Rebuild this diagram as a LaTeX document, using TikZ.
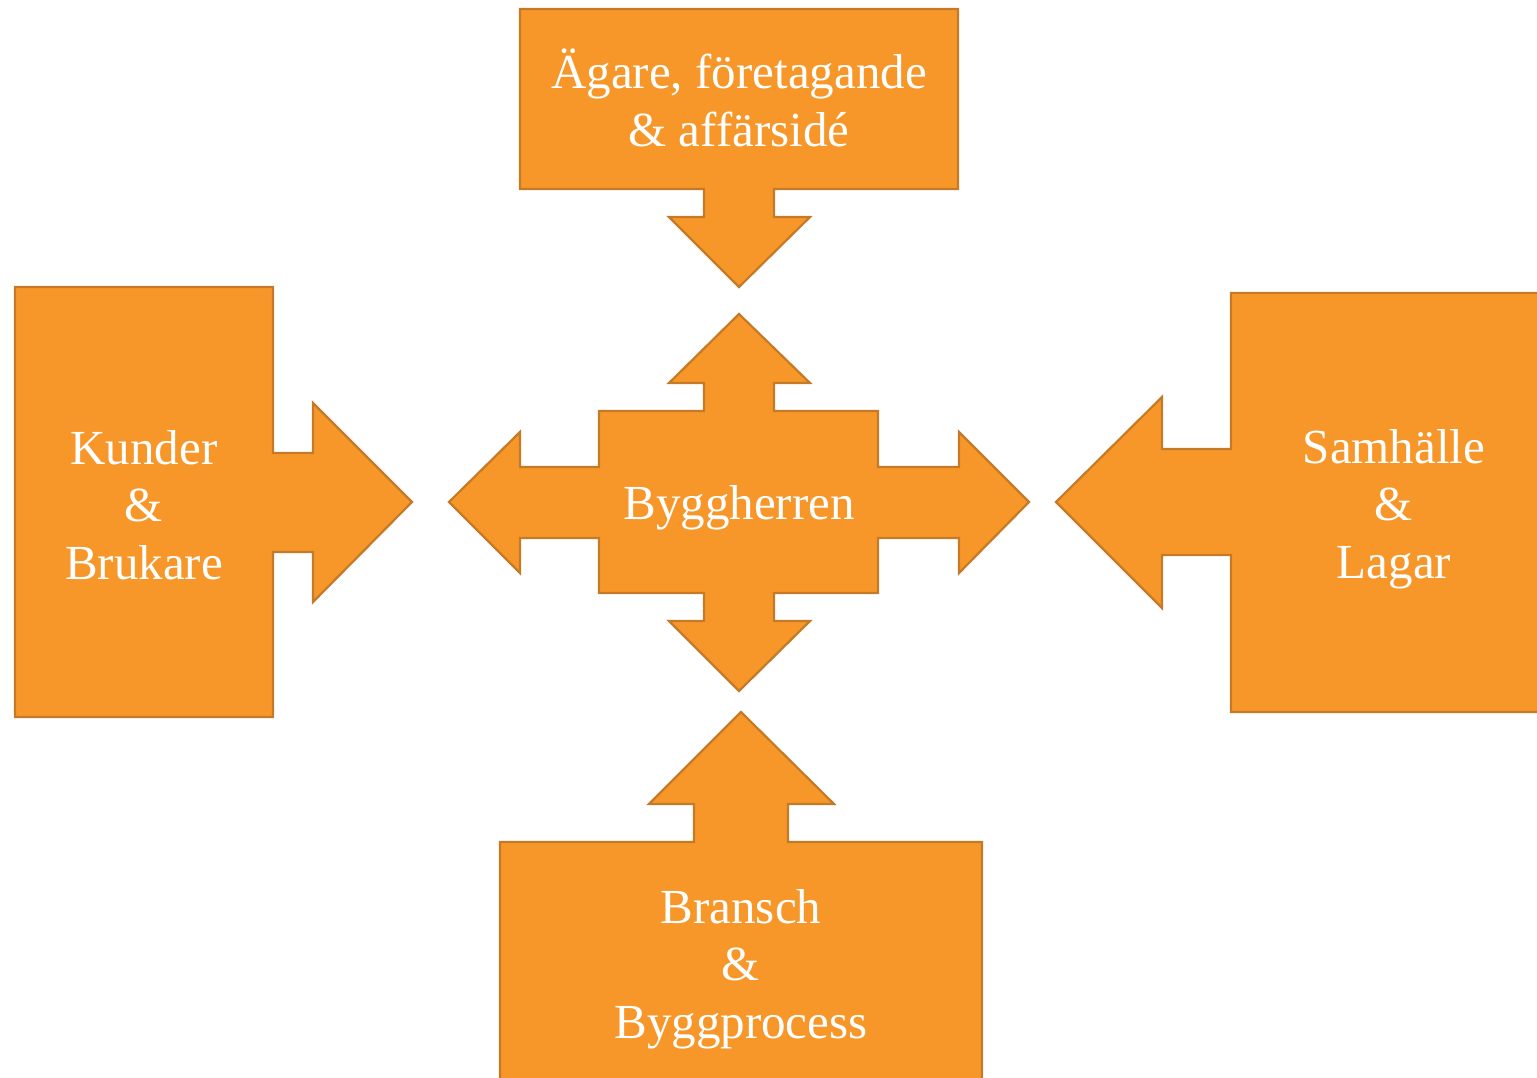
\documentclass[tikz,border=0pt]{standalone}
\usepackage{fontspec}
\setmainfont{Liberation Serif}
\definecolor{orfill}{RGB}{247,151,42}
\definecolor{orline}{RGB}{196,122,38}
\begin{document}
\begin{tikzpicture}[x=1pt,y=-1pt,
  shapebox/.style={fill=orfill,draw=orline,line width=2.2pt,line join=miter},
  lbl/.style={text=white,align=center,font=\fontsize{49}{57.5}\selectfont,inner sep=0pt}]
\useasboundingbox (0,0) rectangle (1537,1078);
\clip (0,0) rectangle (1537,1078);
% top
\draw[shapebox] (520,9) -- (958,9) -- (958,189) -- (774,189) -- (774,217) -- (810,217) -- (739,287) -- (669,217) -- (704,217) -- (704,189) -- (520,189) -- cycle;
% left
\draw[shapebox] (15,287) -- (273,287) -- (273,453) -- (313,453) -- (313,403) -- (412,502) -- (313,602) -- (313,552) -- (273,552) -- (273,717) -- (15,717) -- cycle;
% right
\draw[shapebox] (1231,293) -- (1550,293) -- (1550,712) -- (1231,712) -- (1231,555) -- (1162,555) -- (1162,608) -- (1056,502) -- (1162,397) -- (1162,449) -- (1231,449) -- cycle;
% bottom
\draw[shapebox] (500,842) -- (694,842) -- (694,804) -- (649,804) -- (741,712) -- (834,804) -- (788,804) -- (788,842) -- (982,842) -- (982,1090) -- (500,1090) -- cycle;
% center
\draw[shapebox] (599,411) -- (704,411) -- (704,383) -- (669,383) -- (739,314) -- (810,383) -- (774,383) -- (774,411) -- (878,411) -- (878,467) -- (959,467) -- (959,432) -- (1029,502) -- (959,573) -- (959,538) -- (878,538) -- (878,593) -- (774,593) -- (774,621) -- (810,621) -- (739,691) -- (669,621) -- (704,621) -- (704,593) -- (599,593) -- (599,538) -- (520,538) -- (520,573) -- (449,502) -- (520,432) -- (520,467) -- (599,467) -- cycle;
% labels
\node[lbl] (agare) at (739,98) {Ägare, företagande\\\& affärsidé};
\node[lbl] (kunder) at (144,505) {Kunder\\\&\\Brukare};
\node[lbl] (samh) at (1394,509) {Samhälle\\\&\\Lagar};
\node[lbl] (bransch) at (741,969) {Bransch\\\&\\Byggprocess};
\node[lbl] (bygg) at (739,508) {Byggherren};
\end{tikzpicture}
\end{document}
